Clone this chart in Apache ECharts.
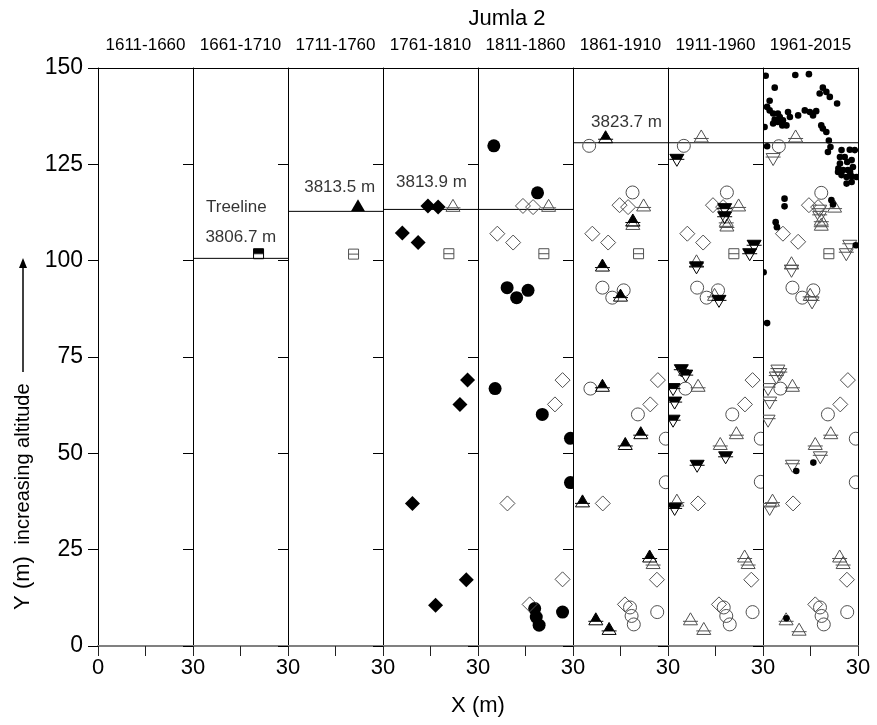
<!DOCTYPE html>
<html><head><meta charset="utf-8">
<script src="https://cdn.jsdelivr.net/npm/echarts@6/dist/echarts.min.js"></script>
<style>html,body{margin:0;padding:0;background:#fff}#c{width:877px;height:725px}</style>
</head><body><div id="c"></div><script>
// ---------------- data ----------------
const periods = ['1611-1660','1661-1710','1711-1760','1761-1810','1811-1860','1861-1910','1911-1960','1961-2015'];
const xTickLabels = ['0','30'];
const yTicks = [0,25,50,75,100,125,150];
// treeline altitude (plot Y, m) for each panel (null = none)
const treelineY = [null, 100.6, 112.8, 113.3, 113.3, 130.6, 130.6, 130.6];
// annotations
const annoText  = ['Treeline','3806.7 m','3813.5 m','3813.9 m','3823.7 m'];
const annoPanel = [1, 1, 2, 3, 5];
const annoX     = [13.7, 15.1, 16.3, 15.3, 16.9];
const annoY     = [113.9, 106.0, 119.0, 120.4, 136.0];

// marks per panel: [x, y, type]
// fc filled circle, dot small filled circle, oc open circle, fd filled diamond, od open diamond,
// ut open up-triangle w/ bar, uth half-filled up-triangle, dt open down-triangle w/ bar,
// dth half-filled down-triangle, sq open square w/ bar, sqh half-filled square, ft filled triangle
const panel1 = [];
const panel2 = [[20.7,101.8,'sqh']];
const panel3 = [[22.1,114.1,'ft'],[20.7,101.7,'sq']];
const panel4 = [
 [14.2,114.2,'fd'],[17.4,113.9,'fd'],[6.1,107.2,'fd'],[11.1,104.7,'fd'],[26.7,69.0,'fd'],[24.3,62.7,'fd'],
 [9.3,37.0,'fd'],[26.3,17.2,'fd'],[16.6,10.6,'fd'],
 [22.1,114.1,'ut'],[20.8,101.8,'sq']
];
const panel5 = [
 [5.0,129.8,'fc'],[18.8,117.6,'fc'],[9.2,93.0,'fc'],[12.2,90.4,'fc'],[15.8,92.3,'fc'],[5.4,66.8,'fc'],[20.3,60.1,'fc'],
 [29.2,53.9,'fc'],[29.2,42.4,'fc'],[17.9,9.7,'fc'],[18.4,7.5,'fc'],[19.3,5.4,'fc'],[26.7,8.8,'fc'],
 [14.2,114.2,'od'],[17.4,113.9,'od'],[6.1,107.0,'od'],[11.1,104.7,'od'],[26.7,69.0,'od'],[24.3,62.7,'od'],
 [9.3,37.0,'od'],[26.7,17.3,'od'],[16.3,10.8,'od'],
 [22.3,114.1,'ut'],[20.8,101.8,'sq']
];
const panel6 = [
 [5.1,129.8,'oc'],[18.8,117.7,'oc'],[9.3,93.0,'oc'],[12.4,90.4,'oc'],[16.0,92.3,'oc'],[5.5,66.8,'oc'],[20.5,60.1,'oc'],
 [29.3,53.8,'oc'],[29.3,42.5,'oc'],[18.0,10.0,'oc'],[18.5,7.8,'oc'],[19.2,5.6,'oc'],[26.6,8.8,'oc'],
 [14.7,114.4,'od'],[17.4,113.9,'od'],[6.1,107.0,'od'],[11.1,104.7,'od'],[26.8,69.0,'od'],[24.4,62.7,'od'],
 [9.4,37.0,'od'],[26.5,17.2,'od'],[16.4,10.8,'od'],
 [22.3,114.2,'ut'],[18.9,109.4,'ut'],[25.3,21.4,'ut'],
 [10.3,131.9,'uth'],[18.9,110.3,'uth'],[9.3,98.6,'uth'],[15.0,90.8,'uth'],[9.3,67.4,'uth'],[21.4,55.1,'uth'],
 [16.5,52.3,'uth'],[3.0,37.4,'uth'],[24.2,23.1,'uth'],[7.2,6.8,'uth'],[11.4,4.3,'uth'],
 [20.7,101.8,'sq']
];
const panel7 = [
 [5.0,129.8,'oc'],[18.6,117.7,'oc'],[9.2,93.0,'oc'],[12.2,90.4,'oc'],[15.8,92.3,'oc'],[5.5,66.8,'oc'],[20.3,60.1,'oc'],
 [29.3,53.8,'oc'],[29.3,42.6,'oc'],[17.6,10.0,'oc'],[18.4,7.8,'oc'],[19.5,5.6,'oc'],[26.7,8.8,'oc'],
 [14.2,114.4,'od'],[17.4,113.9,'od'],[6.1,107.0,'od'],[11.1,104.7,'od'],[26.7,69.0,'od'],[24.3,62.7,'od'],
 [9.5,37.0,'od'],[26.3,17.2,'od'],[16.1,10.8,'od'],
 [10.5,132.1,'ut'],[22.3,114.2,'ut'],[18.4,110.2,'ut'],[18.6,109.0,'ut'],[9.0,99.7,'ut'],[14.7,91.0,'ut'],[9.5,67.4,'ut'],
 [21.6,55.1,'ut'],[16.5,52.3,'ut'],[2.8,37.6,'ut'],[24.2,23.1,'ut'],[25.3,21.4,'ut'],[7.1,6.8,'ut'],[11.3,4.3,'ut'],
 [2.8,126.3,'dth'],[17.9,113.5,'dth'],[17.9,111.4,'dth'],[27.2,104.0,'dth'],[25.8,101.8,'dth'],[9.0,98.4,'dth'],
 [16.1,89.7,'dth'],[4.2,71.7,'dth'],[5.6,70.3,'dth'],[1.6,66.8,'dth'],[2.1,63.3,'dth'],[1.6,58.6,'dth'],
 [18.2,49.1,'dth'],[9.2,46.9,'dth'],[2.1,35.7,'dth'],
 [20.8,101.8,'sq']
];
const panel8 = [
 [5.0,129.7,'oc'],[18.4,117.6,'oc'],[9.3,93.0,'oc'],[12.4,90.4,'oc'],[15.9,92.3,'oc'],[5.5,66.8,'oc'],[20.5,60.1,'oc'],
 [29.3,53.8,'oc'],[29.3,42.5,'oc'],[18.0,10.0,'oc'],[18.5,7.8,'oc'],[19.2,5.6,'oc'],[26.6,8.8,'oc'],
 [14.5,114.4,'od'],[17.4,113.9,'od'],[6.3,107.0,'od'],[11.1,104.9,'od'],[26.8,69.0,'od'],[24.4,62.7,'od'],
 [9.5,37.0,'od'],[26.5,17.2,'od'],[16.5,10.8,'od'],
 [10.3,132.1,'ut'],[22.6,113.9,'ut'],[18.4,110.5,'ut'],[18.4,109.2,'ut'],[9.0,99.2,'ut'],[14.9,91.0,'ut'],[9.3,67.4,'ut'],
 [21.4,55.1,'ut'],[16.5,52.3,'ut'],[3.0,37.6,'ut'],[24.2,23.1,'ut'],[25.3,21.4,'ut'],[7.3,6.8,'ut'],[11.4,4.1,'ut'],
 [3.2,126.5,'dt'],[17.9,113.1,'dt'],[17.9,111.5,'dt'],[26.3,101.8,'dt'],[27.4,104.0,'dt'],[9.0,97.5,'dt'],[15.5,89.3,'dt'],
 [4.7,71.6,'dt'],[5.3,70.7,'dt'],[4.2,69.8,'dt'],[1.6,66.8,'dt'],[2.1,63.3,'dt'],[1.6,58.6,'dt'],[18.1,49.1,'dt'],
 [9.3,46.9,'dt'],[2.1,35.7,'dt'],
 [20.8,101.8,'sq']
];
// small filled dots in the last period (1961-2015)
const dots8 = [
 [0.85,148.0],[10.2,148.2],[14.5,148.4],[3.7,144.9],[18.9,144.9],[17.9,143.4],[20.0,143.8],[21.1,142.5],[23.4,140.8],
 [2.1,141.5],[1.3,139.9],[2.1,139.0],[3.2,138.2],[4.7,138.2],[5.3,137.3],[3.7,136.6],[3.2,135.6],[4.7,136.0],[6.3,136.4],
 [7.9,138.6],[8.5,137.3],[7.4,135.1],[0.5,134.7],[6.1,135.1],[11.1,137.7],[13.2,139.0],[14.8,138.6],[15.8,137.7],[16.8,138.8],
 [18.4,135.1],[18.9,134.3],[20.0,133.4],[20.8,131.2],[21.3,129.5],[20.5,128.2],[1.3,129.7],
 [24.8,128.7],[27.4,128.8],[29.0,128.7],[24.3,126.9],[25.8,126.9],[26.6,125.6],[28.0,126.1],[24.3,125.2],[23.8,123.9],
 [25.3,123.5],[26.8,123.5],[28.4,124.3],[24.8,122.2],[26.4,121.7],[28.0,121.9],[29.5,121.7],[26.4,120.0],[28.0,120.4],
 [27.5,123.0],[23.7,123.0],
 [6.8,116.1],[6.8,114.1],[4.0,110.0],[4.4,108.7],[21.6,115.7],[22.1,114.6],[29.3,104.0],[0.2,97.0],[1.3,83.8],
 [10.5,45.4],[15.9,47.6],[7.4,7.2]
];

// ---------------- layout / styles ----------------
const FONT = 'Arial, "Liberation Sans", Helvetica, sans-serif';
const PLOT_LEFT = 98, PANEL_W = 95, PLOT_TOP = 68, PLOT_H = 578;
const OUT = '#505050';
const panels = [panel1, panel2, panel3, panel4, panel5, panel6, panel7, panel8.concat(dots8.map(d => [d[0], d[1], 'dot']))];

function markShapes(t, cx, cy) {
  const s = [];
  const stroke = (c) => ({fill: 'none', stroke: c, lineWidth: 1});
  const line = (x1, y1, x2, y2, c) => ({type: 'line', shape: {x1, y1, x2, y2}, style: {stroke: c, lineWidth: 1}});
  switch (t) {
    case 'fc': s.push({type: 'circle', shape: {cx, cy, r: 6.5}, style: {fill: '#000'}}); break;
    case 'dot': s.push({type: 'circle', shape: {cx, cy, r: 3.3}, style: {fill: '#000'}}); break;
    case 'oc': s.push({type: 'circle', shape: {cx, cy, r: 6.5}, style: stroke(OUT)}); break;
    case 'fd': s.push({type: 'polygon', shape: {points: [[cx, cy - 7.5], [cx + 7.5, cy], [cx, cy + 7.5], [cx - 7.5, cy]]}, style: {fill: '#000'}}); break;
    case 'od': s.push({type: 'polygon', shape: {points: [[cx, cy - 7.5], [cx + 7.5, cy], [cx, cy + 7.5], [cx - 7.5, cy]]}, style: stroke(OUT)}); break;
    case 'ft': s.push({type: 'polygon', shape: {points: [[cx, cy - 7], [cx + 7, cy + 5], [cx - 7, cy + 5]]}, style: {fill: '#000'}}); break;
    case 'ut':
    case 'uth': {
      const c = t === 'uth' ? '#000' : OUT;
      if (t === 'uth') s.push({type: 'polygon', shape: {points: [[cx, cy - 7], [cx + 4.96, cy + 1.5], [cx - 4.96, cy + 1.5]]}, style: {fill: '#000'}});
      s.push({type: 'polygon', shape: {points: [[cx, cy - 7], [cx + 7, cy + 5], [cx - 7, cy + 5]]}, style: stroke(c)});
      s.push(line(cx - 7.5, cy + 1.5, cx + 7.5, cy + 1.5, c));
      break;
    }
    case 'dt':
    case 'dth': {
      const c = t === 'dth' ? '#000' : OUT;
      if (t === 'dth') s.push({type: 'polygon', shape: {points: [[cx - 7, cy - 5], [cx + 7, cy - 5], [cx + 4.1, cy], [cx - 4.1, cy]]}, style: {fill: '#000'}});
      s.push({type: 'polygon', shape: {points: [[cx - 7, cy - 5], [cx + 7, cy - 5], [cx, cy + 7]]}, style: stroke(c)});
      s.push(line(cx - 7.5, t === 'dth' ? cy : cy - 1.5, cx + 7.5, t === 'dth' ? cy : cy - 1.5, c));
      break;
    }
    case 'sq':
    case 'sqh': {
      const c = t === 'sqh' ? '#000' : OUT;
      if (t === 'sqh') s.push({type: 'rect', shape: {x: cx - 5, y: cy - 5, width: 10, height: 4.5}, style: {fill: '#000'}});
      s.push({type: 'rect', shape: {x: cx - 5, y: cy - 5, width: 10, height: 10}, style: stroke(c)});
      s.push(line(cx - 5, cy, cx + 5, cy, c));
      break;
    }
  }
  return s;
}

const grid = [], xAxis = [], yAxis = [], series = [];
for (let i = 0; i < 8; i++) {
  grid.push({left: PLOT_LEFT + i * PANEL_W, top: PLOT_TOP, width: PANEL_W, height: PLOT_H, containLabel: false});
  xAxis.push({
    gridIndex: i, type: 'value', min: 0, max: 30, interval: 15, position: 'bottom',
    axisLine: {show: true, onZero: false, lineStyle: {color: '#808080', width: 2}},
    axisTick: {show: true, length: 10, lineStyle: {color: '#222'}},
    axisLabel: {fontFamily: FONT, fontSize: 22, color: '#000', margin: 11,
      formatter: v => (v === 30 ? xTickLabels[1] : (v === 0 && i === 0 ? xTickLabels[0] : ''))},
    splitLine: {show: false}
  });
  xAxis.push({
    gridIndex: i, type: 'value', min: 0, max: 30, position: 'top',
    axisLine: {show: true, onZero: false, lineStyle: {color: '#000', width: 1}},
    axisTick: {show: false}, axisLabel: {show: false}, splitLine: {show: false},
    name: periods[i], nameLocation: 'middle', nameGap: 14,
    nameTextStyle: {fontFamily: FONT, fontSize: 17, color: '#000'}
  });
  yAxis.push({
    gridIndex: i, type: 'value', min: 0, max: 150, interval: 25, position: 'left',
    axisLine: {show: true, onZero: false, lineStyle: {color: '#000', width: 1}},
    axisTick: {show: true, length: 10, lineStyle: {color: '#000'}},
    axisLabel: {show: i === 0, fontFamily: FONT, fontSize: 23, color: '#000', margin: 15,
      formatter: v => (yTicks.indexOf(v) >= 0 ? String(v) : '')},
    splitLine: {show: false}
  });
}
// right frame
yAxis.push({gridIndex: 7, type: 'value', min: 0, max: 150, position: 'right',
  axisLine: {show: true, onZero: false, lineStyle: {color: '#000', width: 1}},
  axisTick: {show: false}, axisLabel: {show: false}, splitLine: {show: false}});

for (let i = 0; i < 8; i++) {
  if (treelineY[i] != null) {
    series.push({type: 'line', xAxisIndex: 2 * i, yAxisIndex: i, silent: true, symbol: 'none',
      data: [[0, treelineY[i]], [30, treelineY[i]]], lineStyle: {color: '#000', width: 1}, z: 3});
  }
  const pts = panels[i];
  if (pts.length) {
    series.push({type: 'custom', xAxisIndex: 2 * i, yAxisIndex: i, silent: true, clip: true, z: 4,
      data: pts.map(p => [p[0], p[1]]),
      renderItem: (params, api) => {
        const p = pts[params.dataIndex];
        const c = api.coord([p[0], p[1]]);
        return {type: 'group', children: markShapes(p[2], c[0], c[1])};
      }});
  }
}
for (let k = 0; k < annoText.length; k++) {
  series.push({type: 'scatter', xAxisIndex: 2 * annoPanel[k], yAxisIndex: annoPanel[k], silent: true, symbolSize: 0, z: 6,
    data: [[annoX[k], annoY[k]]],
    label: {show: true, position: 'inside', formatter: annoText[k], fontFamily: FONT, fontSize: 17, color: '#000'}});
}

const chart = echarts.init(document.getElementById('c'), null, {renderer: 'canvas'});
chart.setOption({
  animation: false,
  backgroundColor: '#fff',
  grid, xAxis, yAxis, series,
  graphic: [
    {type: 'text', x: 507, y: 19, style: {text: 'Jumla 2', font: '22px ' + FONT, fill: '#000', textAlign: 'center', textVerticalAlign: 'middle'}},
    {type: 'text', x: 478, y: 706, style: {text: 'X (m)', font: '22px ' + FONT, fill: '#000', textAlign: 'center', textVerticalAlign: 'middle'}},
    {type: 'text', x: 23, y: 583, rotation: Math.PI / 2, style: {text: 'Y (m)', font: '22px ' + FONT, fill: '#000', textAlign: 'center', textVerticalAlign: 'middle'}},
    {type: 'text', x: 23, y: 464, rotation: Math.PI / 2, style: {text: 'increasing altitude', font: '20px ' + FONT, fill: '#000', textAlign: 'center', textVerticalAlign: 'middle'}},
    {type: 'line', shape: {x1: 23, y1: 372, x2: 23, y2: 266}, style: {stroke: '#000', lineWidth: 1.5}},
    {type: 'polygon', shape: {points: [[23, 258], [19, 268], [27, 268]]}, style: {fill: '#000'}}
  ]
});
</script></body></html>
